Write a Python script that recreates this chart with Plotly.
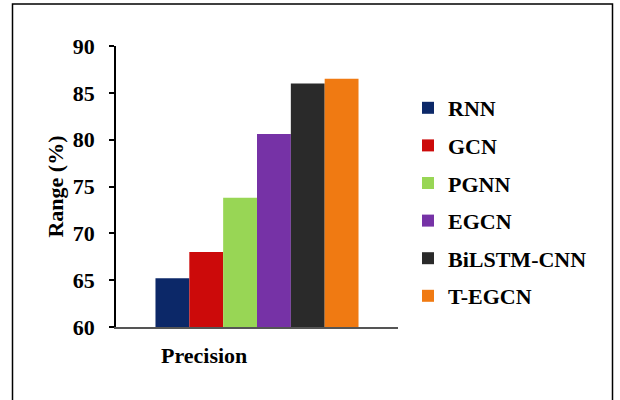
import plotly.graph_objects as go

models = ["RNN", "GCN", "PGNN", "EGCN", "BiLSTM-CNN", "T-EGCN"]
precision = [65.2, 68.0, 73.8, 80.6, 86.0, 86.5]
category = ["Precision"]
colors = ["#0c2868", "#cc0a0a", "#98d655", "#7632a6", "#2a2a2a", "#f07a12"]
y_ticks = [60, 65, 70, 75, 80, 85, 90]

W, H = 620, 400
# plot area in page pixels: x 116..398, y 46..327
L, T = 116, 46
R, B = W - 398, H - 327
pw, ph = W - L - R, H - T - B

def px_x(p):
    return (p - L) / pw

def px_y(p):
    return (H - B - p) / ph

FONT = "Liberation Serif"
FS = 22

fig = go.Figure()
for m, v, c in zip(models, precision, colors):
    fig.add_trace(go.Bar(
        x=category, y=[v], name=m, marker=dict(color=c, line=dict(width=0)),
        legendgroup=m,
    ))

fig.update_layout(
    width=W, height=H,
    margin=dict(l=L, r=R, t=T, b=B, autoexpand=False),
    plot_bgcolor="white", paper_bgcolor="white",
    barmode="group", bargap=0.28, bargroupgap=0,
    font=dict(family=FONT, size=FS, color="black"),
    showlegend=True,
    legend=dict(
        x=px_x(408), y=px_y(87), xanchor="left", yanchor="top",
        font=dict(family=FONT, size=FS, color="black", weight="bold"),
        traceorder="grouped", tracegroupgap=6,
        bgcolor="rgba(0,0,0,0)", itemwidth=30,
    ),
    xaxis=dict(
        showticklabels=False, showline=True, linecolor="#555555", linewidth=1.5,
        ticks="", showgrid=False, zeroline=False,
    ),
    yaxis=dict(
        range=[60, 90], tickvals=y_ticks, ticktext=[str(t) for t in y_ticks],
        showline=True, linecolor="black", linewidth=1.5,
        ticks="outside", ticklen=5, tickwidth=1.5, tickcolor="black",
        ticklabelstandoff=10,
        showgrid=False, zeroline=False,
        tickfont=dict(family=FONT, size=FS, weight="bold"),
        title=dict(text="Range (%)", font=dict(family=FONT, size=FS, weight="bold"), standoff=3),
    ),
)

fig.add_annotation(
    x=px_x(204), y=px_y(355), xref="paper", yref="paper",
    xanchor="center", yanchor="middle",
    text="Precision", showarrow=False,
    font=dict(family=FONT, size=FS, weight="bold"),
)

fig.add_shape(
    type="rect", xref="paper", yref="paper",
    x0=px_x(12.5), x1=px_x(612.5), y0=px_y(410), y1=px_y(4),
    line=dict(color="black", width=1.5), fillcolor="rgba(0,0,0,0)", layer="above",
)

fig.write_html(
    "out.html",
    config={"displayModeBar": False},
    post_script="document.body.style.margin='0';document.body.style.overflow='hidden';window.scrollTo(0,0);",
)
